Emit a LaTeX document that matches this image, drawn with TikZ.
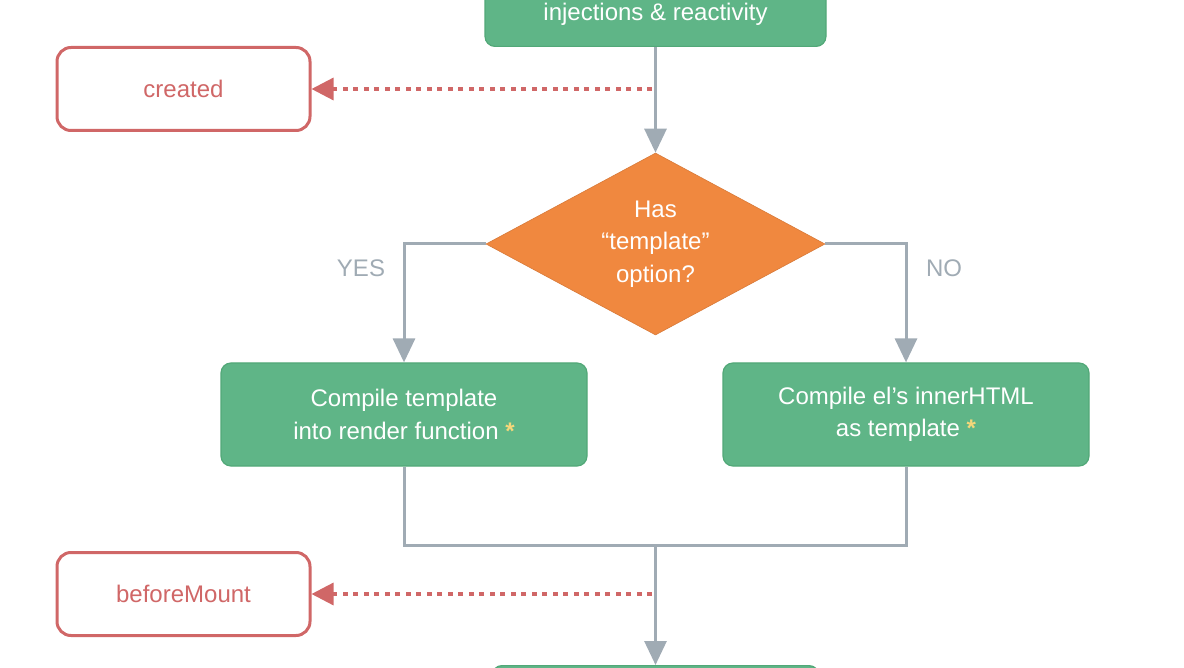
\documentclass[tikz,border=0pt]{standalone}
\usepackage{fontspec}
\setmainfont{Liberation Sans}
\usetikzlibrary{arrows.meta,positioning,shapes.geometric}
\definecolor{vuegreen}{HTML}{5FB587}
\definecolor{vuegreendk}{HTML}{52A878}
\definecolor{hookred}{HTML}{D06767}
\definecolor{condorange}{HTML}{F0883F}
\definecolor{flowgray}{HTML}{A0ABB4}
\definecolor{staryellow}{HTML}{F5D77A}
\newcommand{\vstar}{{\color{staryellow}\bfseries *}}

\begin{document}
\begin{tikzpicture}[
x=1pt,y=-1pt,
txt/.style={font=\fontsize{24}{32.5}\selectfont},
stepbox/.style={txt,draw=vuegreendk,line width=1.2pt,fill=vuegreen,text=white,
rounded corners=10pt,align=center,minimum width=366pt,minimum height=103pt},
hookbox/.style={txt,draw=hookred,line width=3pt,fill=white,text=hookred,
rounded corners=14pt,align=center,minimum width=253pt,minimum height=83pt},
cond/.style={txt,diamond,aspect=1.86,inner sep=0pt,fill=condorange,
draw=condorange!90!black,line width=0.6pt,text=white,align=center,
minimum width=339pt,minimum height=182pt},
lbl/.style={txt,text=flowgray},
flow/.style={draw=flowgray,line width=3pt,-{Triangle[length=24pt,width=22pt]}},
line/.style={draw=flowgray,line width=3pt},
hookarr/.style={draw=hookred,line width=3.2pt,dash pattern=on 5pt off 5.5pt,
-{Triangle[length=22pt,width=22pt]}}
]
\useasboundingbox (0,0) rectangle (1184,668);

\node[stepbox,minimum width=341pt,minimum height=64pt,anchor=south] (init) at (655.5,47) {injections \& reactivity};
\node[hookbox] (created) at (183.5,89) {created};
\node[cond] (cond) at (655.5,244) {Has\\“template”\\option?};
\node[stepbox] (tpl) at (404,414.5) {Compile template\\into render function \vstar};
\node[stepbox] (html) at (906,414.5) {Compile el’s innerHTML\\as template \vstar};
\node[lbl] (yes) at (361,268) {YES};
\node[lbl] (no) at (944,268) {NO};
\node[hookbox] (bmount) at (183.5,594) {beforeMount};
\node[stepbox,minimum width=327pt,minimum height=60pt,anchor=north] (mount) at (655.5,665) {};

\coordinate (c1) at (652,89);
\coordinate (c2) at (652,594);
\coordinate (join) at (655.5,545);

\draw[flow] (init) -- (cond);
\draw[hookarr] (c1) -- (created);
\draw[flow] (cond.west) -| (tpl);
\draw[flow] (cond.east) -| (html);
\draw[line] (tpl.south) |- (join) -| (html.south);
\draw[flow] (join) -- (mount);
\draw[hookarr] (c2) -- (bmount);
\end{tikzpicture}
\end{document}
